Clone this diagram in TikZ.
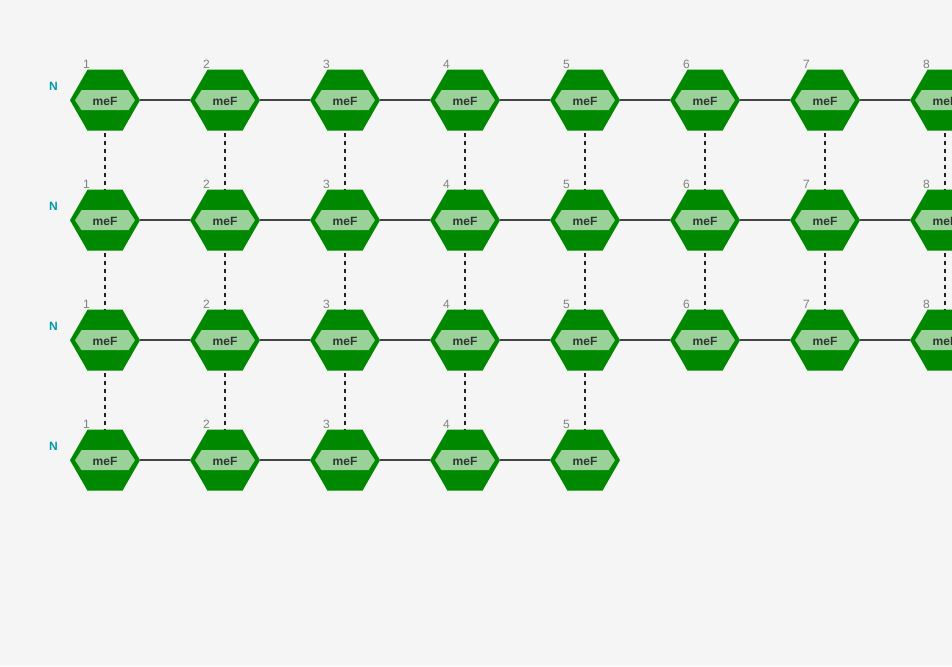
\documentclass[tikz,border=0pt]{standalone}
\usepackage{fontspec}
\setmainfont{Liberation Sans}
\usepackage{xcolor}
\usetikzlibrary{positioning}
\definecolor{bgpage}{HTML}{F5F5F5}
\definecolor{mefgreen}{HTML}{008800}
\definecolor{meflight}{HTML}{99D199}
\definecolor{linkgray}{HTML}{444444}
\definecolor{dashgray}{HTML}{222222}
\definecolor{mefink}{HTML}{333333}
\definecolor{indexgray}{HTML}{808080}
\definecolor{rowteal}{HTML}{0099AA}
\tikzset{
	mefhex/.pic={
		\fill[mefgreen] (-35,0) -- (-17.5,-30.5) -- (17.5,-30.5) -- (35,0) -- (17.5,30.5) -- (-17.5,30.5) -- cycle;
		\fill[meflight] (-30,0) -- (-23.5,-10) -- (23.5,-10) -- (30,0) -- (23.5,10) -- (-23.5,10) -- cycle;
	},
	mef/.style={minimum width=70pt, minimum height=61pt, inner sep=0pt, text=mefink,
		text height=11pt, text depth=0pt, font=\fontsize{12}{14}\selectfont\bfseries},
	index/.style={text=indexgray, inner sep=0pt, font=\fontsize{12}{14}\selectfont},
	rowlabel/.style={text=rowteal, inner sep=0pt, font=\fontsize{12}{14}\selectfont\bfseries},
	hlink/.style={draw=linkgray, line width=2pt},
	vlink/.style={draw=dashgray, line width=2pt, dash pattern=on 4pt off 4pt, dash phase=6pt},
}
\begin{document}
\begin{tikzpicture}[x=1pt, y=-1pt]
	\useasboundingbox[fill=bgpage] (0,0) rectangle (952,666);
	% rows and their columns
	\foreach \row/\count in {1/8, 2/8, 3/8, 4/5} {
		\pgfmathsetmacro{\ypos}{100.2+120*(\row-1)}
		\node[rowlabel] (n\row) at (53.5,\ypos-14) {N};
		\foreach \col in {1,...,\count} {
			\pgfmathsetmacro{\xpos}{105+120*(\col-1)}
			\pic at (\xpos,\ypos) {mefhex};
			\node[mef] (m\row\col) at (\xpos,\ypos) {meF};
			\node[index] (i\row\col) at (\xpos-18.6,\ypos-36) {\col};
		}
	}
	% links along a row
	\foreach \row/\count in {1/7, 2/7, 3/7, 4/4} {
		\foreach \col [evaluate=\col as \nxt using int(\col+1)] in {1,...,\count} {
			\path[hlink] (m\row\col) -- (m\row\nxt);
		}
	}
	% links between rows
	\foreach \row/\nxt/\count in {1/2/8, 2/3/8, 3/4/5} {
		\foreach \col in {1,...,\count} {
			\path[vlink] (m\row\col) -- (m\nxt\col);
		}
	}
\end{tikzpicture}
\end{document}
